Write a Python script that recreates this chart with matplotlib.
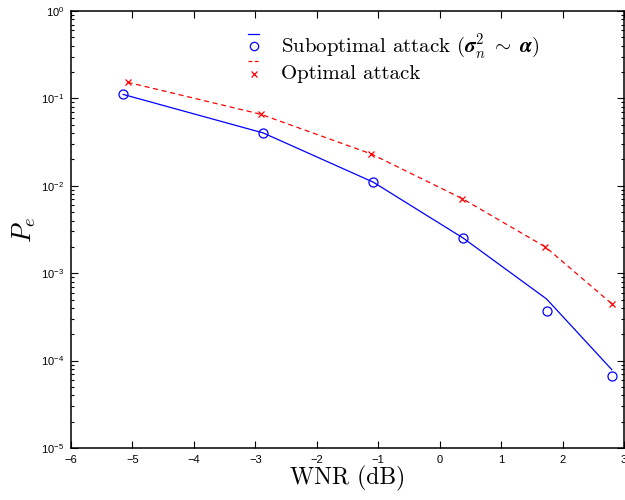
import matplotlib
matplotlib.use("Agg")
import matplotlib.pyplot as plt
from matplotlib.lines import Line2D
from matplotlib.legend_handler import HandlerBase
from matplotlib.ticker import LogLocator, NullFormatter

# ---- data ----
wnr_sub = [-5.15, -2.87, -1.08, 0.38, 1.74, 2.80]
pe_sub_line = [0.111, 0.0402, 0.0110, 2.53e-3, 5.07e-4, 7.9e-5]
pe_sub_sim = [0.111, 0.0402, 0.0110, 2.53e-3, 3.66e-4, 6.67e-5]
wnr_opt = [-5.08, -2.91, -1.11, 0.37, 1.72, 2.80]
pe_opt = [0.153, 0.0658, 0.0231, 7.12e-3, 2.0e-3, 4.48e-4]
xticks = [-6, -5, -4, -3, -2, -1, 0, 1, 2, 3]
label_sub = r"Suboptimal attack ($\mathbfit{\sigma}_n^2 \;\sim\; \mathbfit{\alpha}$)"
label_opt = "Optimal attack"

plt.rcParams['font.family'] = ['Liberation Sans', 'DejaVu Sans']
plt.rcParams['mathtext.fontset'] = 'custom'
plt.rcParams['mathtext.rm'] = 'Liberation Sans'
plt.rcParams['mathtext.it'] = 'Liberation Sans:italic'
plt.rcParams['mathtext.bf'] = 'Liberation Sans:bold'

fig = plt.figure(figsize=(6.25, 5), dpi=100)
ax = fig.add_axes([71/625, 1-448/500, (624-71)/625, (448-11)/500])

ax.plot(wnr_sub, pe_sub_line, '-', color='#0000ff', lw=0.9)
ax.plot(wnr_sub, pe_sub_sim, 'o', mfc='none', mec='#0000ff', ms=6.5, mew=0.9)
ax.plot(wnr_opt, pe_opt, '--', color='#ff0000', lw=0.9, dashes=(4, 3),
        marker='x', ms=4.5, mew=0.9)

ax.set_yscale('log')
ax.set_xlim(-6, 3)
ax.set_ylim(1e-5, 1)
ax.set_xticks(xticks)
ax.set_xticklabels([('\u2212%d' % -v) if v < 0 else str(v) for v in xticks])
ax.yaxis.set_major_locator(LogLocator(base=10, numticks=10))
ax.yaxis.set_minor_locator(LogLocator(base=10, subs=range(2, 10), numticks=20))
ax.yaxis.set_minor_formatter(NullFormatter())
ax.tick_params(which='both', direction='in', top=True, right=True,
               labelsize=8, width=0.8)
ax.tick_params(which='major', length=5, pad=5)
ax.tick_params(which='minor', length=2.5)
for s in ax.spines.values():
    s.set_linewidth(1.1)

ax.set_xlabel("WNR (dB)", family='cmr10', fontsize=17, labelpad=1)
ax.set_ylabel(r"$P_e$", fontsize=19, math_fontfamily='cm', labelpad=2)


class StackedHandler(HandlerBase):
    def __init__(self, line_kw, marker_kw):
        super().__init__()
        self.line_kw = line_kw
        self.marker_kw = marker_kw

    def create_artists(self, legend, orig_handle, xdescent, ydescent,
                       width, height, fontsize, trans):
        y_mark = height * 0.4 - ydescent
        y_line = y_mark + height * 0.85
        l = Line2D([-xdescent, -xdescent + width], [y_line, y_line],
                   transform=trans, **self.line_kw)
        m = Line2D([-xdescent + width / 2], [y_mark], transform=trans,
                   linestyle='none', **self.marker_kw)
        return [l, m]


h1 = Line2D([], [], color='#0000ff')
h2 = Line2D([], [], color='#ff0000')
leg = ax.legend(
    [h1, h2], [label_sub, label_opt],
    handler_map={
        h1: StackedHandler(dict(color='#0000ff', lw=0.9),
                           dict(marker='o', mfc='none', mec='#0000ff', ms=6, mew=0.9)),
        h2: StackedHandler(dict(color='#ff0000', lw=0.9, dashes=(3, 2)),
                           dict(marker='x', color='#ff0000', ms=4, mew=0.9)),
    },
    loc='upper left', bbox_to_anchor=(158.5/553, 0.995), frameon=False,
    handlelength=0.53, handletextpad=1.05, labelspacing=0.2,
    prop={'family': 'cmr10', 'size': 15, 'math_fontfamily': 'cm'})

fig.savefig('out.png', dpi=100)
